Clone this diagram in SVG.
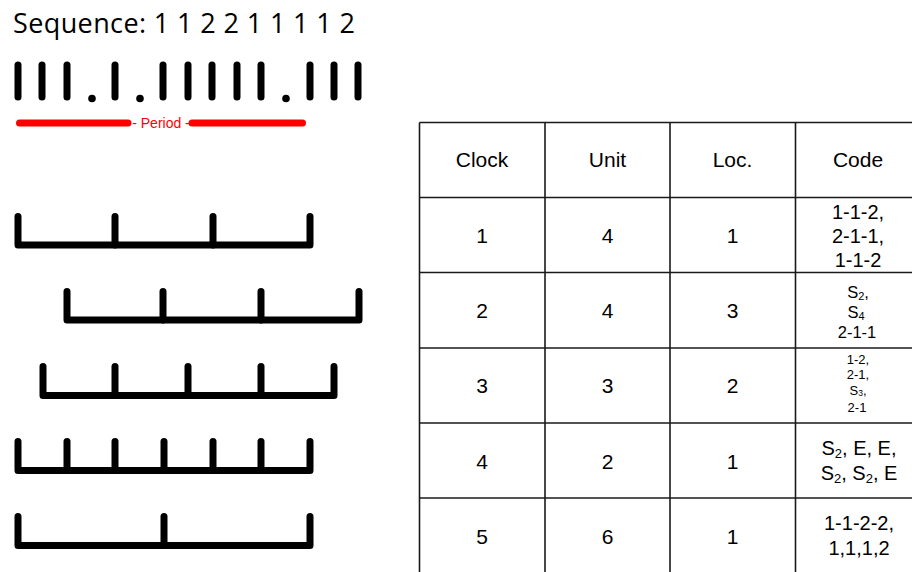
<svg xmlns="http://www.w3.org/2000/svg" width="912" height="572" viewBox="0 0 912 572">
<style>
.bar{stroke:#000;stroke-width:7;stroke-linecap:round;fill:none}
.clk{stroke:#000;stroke-width:7;stroke-linecap:round;stroke-linejoin:round;fill:none}
.red{stroke:#f00;stroke-width:7;stroke-linecap:round;fill:none}
.grid{stroke:#1a1a1a;stroke-width:1.6;fill:none}
.t{font-family:"Liberation Sans",Arial,sans-serif;font-size:21px;fill:#000;text-anchor:middle}
.c20{font-family:"Liberation Sans",Arial,sans-serif;font-size:20px;fill:#000;text-anchor:middle}
.c17{font-family:"Liberation Sans",Arial,sans-serif;font-size:16.5px;fill:#000;text-anchor:middle}
.c13{font-family:"Liberation Sans",Arial,sans-serif;font-size:13px;fill:#000;text-anchor:middle}
</style>
<rect width="912" height="572" fill="#fff"/>
<g id="sequence">
<text x="13" y="33" font-family="'Open Sans','Noto Sans',sans-serif" font-size="27" fill="#000" textLength="342" lengthAdjust="spacing">Sequence: 1 1 2 2 1 1 1 1 2</text>
<g class="bar">
<line x1="18" y1="65" x2="18" y2="97"/>
<line x1="42" y1="65" x2="42" y2="97"/>
<line x1="67" y1="65" x2="67" y2="97"/>
<line x1="115" y1="65" x2="115" y2="97"/>
<line x1="163" y1="65" x2="163" y2="97"/>
<line x1="188" y1="65" x2="188" y2="97"/>
<line x1="212" y1="65" x2="212" y2="97"/>
<line x1="237" y1="65" x2="237" y2="97"/>
<line x1="261" y1="65" x2="261" y2="97"/>
<line x1="310" y1="65" x2="310" y2="97"/>
<line x1="334" y1="65" x2="334" y2="97"/>
<line x1="358" y1="65" x2="358" y2="97"/>
</g>
<circle cx="92" cy="98.5" r="3.8" fill="#000"/>
<circle cx="140" cy="98.5" r="3.8" fill="#000"/>
<circle cx="286" cy="98.5" r="3.8" fill="#000"/>
</g>
<g id="period">
<line class="red" x1="19.5" y1="123" x2="128" y2="123"/>
<line class="red" x1="192" y1="123" x2="302.5" y2="123"/>
<text x="161" y="128" font-family="'Liberation Sans',Arial,sans-serif" font-size="14" fill="#f00" text-anchor="middle">- Period -</text>
</g>
<g id="clock1" class="clk">
<polyline points="18,216.5 18,245 310,245 310,216.5"/>
<line x1="115" y1="216.5" x2="115" y2="245"/>
<line x1="213" y1="216.5" x2="213" y2="245"/>
</g>
<g id="clock2" class="clk">
<polyline points="67,291.5 67,320 359,320 359,291.5"/>
<line x1="163" y1="291.5" x2="163" y2="320"/>
<line x1="261" y1="291.5" x2="261" y2="320"/>
</g>
<g id="clock3" class="clk">
<polyline points="43,366.5 43,395.5 334,395.5 334,366.5"/>
<line x1="115" y1="366.5" x2="115" y2="395.5"/>
<line x1="188" y1="366.5" x2="188" y2="395.5"/>
<line x1="261" y1="366.5" x2="261" y2="395.5"/>
</g>
<g id="clock4" class="clk">
<polyline points="18,441.5 18,470.5 310,470.5 310,441.5"/>
<line x1="67" y1="441.5" x2="67" y2="470.5"/>
<line x1="115" y1="441.5" x2="115" y2="470.5"/>
<line x1="164" y1="441.5" x2="164" y2="470.5"/>
<line x1="213" y1="441.5" x2="213" y2="470.5"/>
<line x1="261" y1="441.5" x2="261" y2="470.5"/>
</g>
<g id="clock5" class="clk">
<polyline points="18,516.5 18,545.5 310,545.5 310,516.5"/>
<line x1="164" y1="516.5" x2="164" y2="545.5"/>
</g>
<g id="table">
<g class="grid">
<line x1="419.5" y1="122.5" x2="419.5" y2="574"/>
<line x1="545" y1="122.5" x2="545" y2="574"/>
<line x1="670" y1="122.5" x2="670" y2="574"/>
<line x1="795.5" y1="122.5" x2="795.5" y2="574"/>
<line x1="419.5" y1="122.5" x2="920" y2="122.5"/>
<line x1="419.5" y1="197.5" x2="920" y2="197.5"/>
<line x1="419.5" y1="272.5" x2="920" y2="272.5"/>
<line x1="419.5" y1="348" x2="920" y2="348"/>
<line x1="419.5" y1="423" x2="920" y2="423"/>
<line x1="419.5" y1="498" x2="920" y2="498"/>
</g>
<text class="t" x="482" y="167">Clock</text>
<text class="t" x="607.5" y="167">Unit</text>
<text class="t" x="732.5" y="167">Loc.</text>
<text class="t" x="858" y="167">Code</text>
<text class="t" x="482" y="243">1</text>
<text class="t" x="607.5" y="243">4</text>
<text class="t" x="732.5" y="243">1</text>
<text class="t" x="482" y="318">2</text>
<text class="t" x="607.5" y="318">4</text>
<text class="t" x="732.5" y="318">3</text>
<text class="t" x="482" y="393">3</text>
<text class="t" x="607.5" y="393">3</text>
<text class="t" x="732.5" y="393">2</text>
<text class="t" x="482" y="468.5">4</text>
<text class="t" x="607.5" y="468.5">2</text>
<text class="t" x="732.5" y="468.5">1</text>
<text class="t" x="482" y="543.5">5</text>
<text class="t" x="607.5" y="543.5">6</text>
<text class="t" x="732.5" y="543.5">1</text>
<text class="c20" x="858" y="219">1-1-2,</text>
<text class="c20" x="858" y="243">2-1-1,</text>
<text class="c20" x="858" y="267">1-1-2</text>
<text class="c17" x="858" y="298">S<tspan font-size="11" dy="1.5">2</tspan><tspan dy="-1.5">,</tspan></text>
<text class="c17" x="856" y="318">S<tspan font-size="11" dy="1.5">4</tspan></text>
<text class="c17" x="857" y="338">2-1-1</text>
<text class="c13" x="858" y="363.5">1-2,</text>
<text class="c13" x="858" y="379">2-1,</text>
<text class="c13" x="858" y="394.5">S<tspan font-size="8.5" dy="1">3</tspan><tspan dy="-1">,</tspan></text>
<text class="c13" x="857" y="411.5">2-1</text>
<text class="c20" x="859" y="455">S<tspan font-size="13" dy="3">2</tspan><tspan dy="-3">, E, E,</tspan></text>
<text class="c20" x="859" y="480">S<tspan font-size="13" dy="3">2</tspan><tspan dy="-3">, S</tspan><tspan font-size="13" dy="3">2</tspan><tspan dy="-3">, E</tspan></text>
<text class="c20" x="859" y="530">1-1-2-2,</text>
<text class="c20" x="859" y="555">1,1,1,2</text>
</g>
</svg>
